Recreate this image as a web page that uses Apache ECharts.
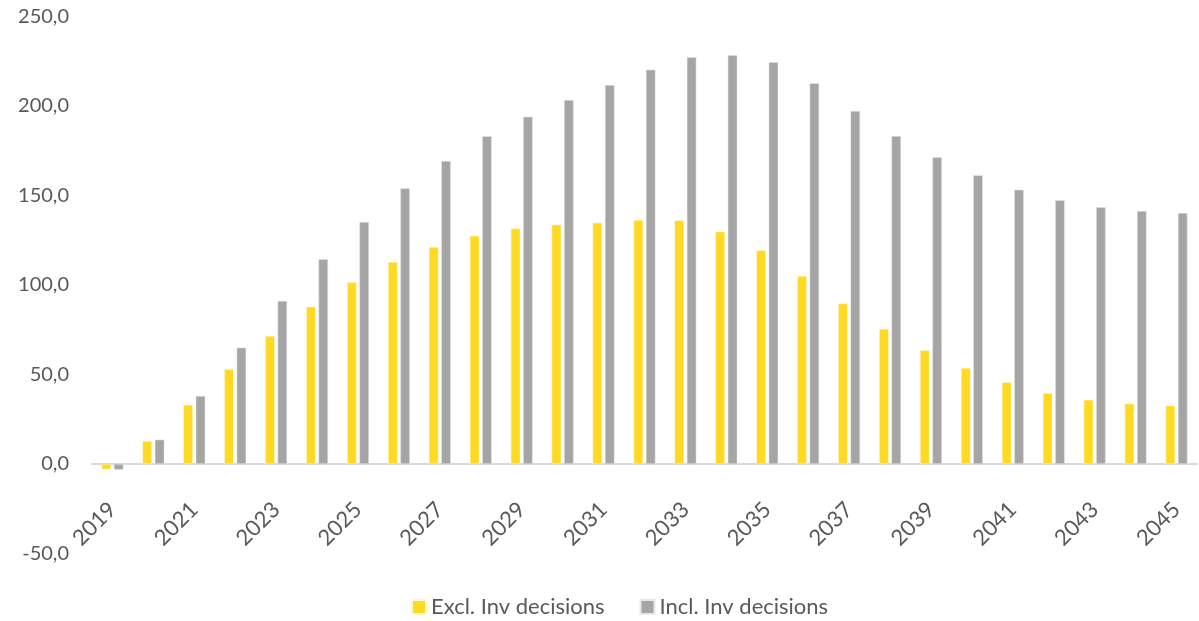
<!DOCTYPE html>
<html>
<head>
<meta charset="utf-8">
<script src="https://cdn.jsdelivr.net/npm/echarts@6/dist/echarts.min.js"></script>
<style>
html,body{margin:0;padding:0;background:#fff;}
#chart{width:1199px;height:621px;}
</style>
</head>
<body>
<div id="chart"></div>
<script>
const years = ['2019','2020','2021','2022','2023','2024','2025','2026','2027','2028','2029','2030','2031','2032','2033','2034','2035','2036','2037','2038','2039','2040','2041','2042','2043','2044','2045'];
const exclInv = [-3.0,12.8,33.0,52.9,71.5,87.9,101.5,112.8,121.2,127.5,131.5,133.7,134.8,136.3,136.1,129.8,119.4,105.0,89.6,75.4,63.5,53.6,45.6,39.5,35.8,33.7,32.6];
const inclInv = [-3.2,13.6,38.0,65.0,91.1,114.4,135.2,154.0,169.3,183.1,194.0,203.4,211.7,220.3,227.2,228.3,224.4,212.7,197.2,183.2,171.3,161.3,153.2,147.3,143.4,141.3,140.2];
const seriesNames = ['Excl. Inv decisions','Incl. Inv decisions'];

const chart = echarts.init(document.getElementById('chart'));
const font = 'Lato, "Open Sans", sans-serif';
chart.setOption({
  animation: false,
  textStyle: {fontFamily: font},
  grid: {left: 92, right: 2, top: 16.5, bottom: 67.5, containLabel: false},
  legend: {
    bottom: -2,
    left: 406,
    itemWidth: 14, itemHeight: 14, itemGap: 35,
    icon: 'rect',
    textStyle: {fontSize: 22, color: '#595959', fontFamily: font},
    data: seriesNames
  },
  xAxis: {
    type: 'category',
    data: years,
    offset: -89.5,
    axisTick: {show: false},
    axisLine: {onZero: false, lineStyle: {color: '#d9d9d9', width: 2}},
    axisLabel: {interval: 1, rotate: 45, fontSize: 22, color: '#595959', margin: 42, fontFamily: font}
  },
  yAxis: {
    type: 'value',
    min: -50, max: 250, interval: 50,
    splitLine: {show: false},
    axisLine: {show: false},
    axisTick: {show: false},
    axisLabel: {
      fontSize: 20, color: '#595959', margin: 23, fontFamily: font,
      formatter: v => v.toFixed(1).replace('.', ',')
    }
  },
  series: [
    {name: seriesNames[0], type: 'bar', data: exclInv, barWidth: 9.5, barGap: '30%',
     itemStyle: {color: '#FFD923', borderColor: '#fff8d0', borderWidth: 0.5}},
    {name: seriesNames[1], type: 'bar', data: inclInv, barWidth: 9.5, barGap: '30%',
     itemStyle: {color: '#A5A5A5', borderColor: '#e8e8e8', borderWidth: 0.5}}
  ]
});
</script>
</body>
</html>
